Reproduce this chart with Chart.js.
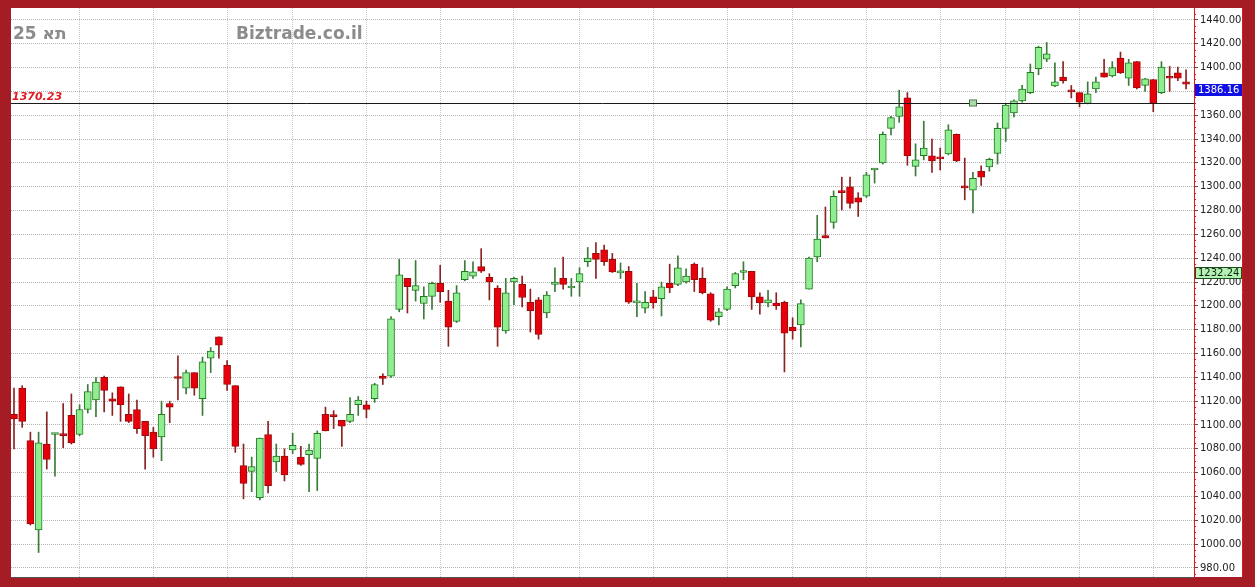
<!DOCTYPE html>
<html>
<head>
<meta charset="utf-8">
<title>TA-25</title>
<script src="https://cdn.jsdelivr.net/npm/chart.js@4.4.1/dist/chart.umd.min.js"></script>
<style>
    html, body { margin: 0; padding: 0; background: #a61c24; }
    canvas { display: block; }
</style>
</head>
<body>
<canvas id="priceChart" width="1255" height="587"></canvas>
<script>
// Daily candles, oldest first
const opens = [
    1109, 1131, 1087, 1012, 1084, 1092, 1092, 1108, 1092, 1113,
    1121, 1140, 1122, 1132, 1109, 1113, 1103, 1094, 1090, 1118,
    1140, 1131, 1144, 1122, 1156, 1174, 1150, 1133, 1066, 1061,
    1039, 1092, 1069, 1074, 1079, 1073, 1075, 1072, 1109, 1108.5,
    1104, 1103, 1117, 1117, 1122, 1141, 1141, 1197, 1223, 1213,
    1202, 1208, 1219, 1204, 1187, 1222, 1225, 1233, 1224, 1215,
    1179, 1220, 1218, 1203, 1205, 1194, 1218, 1223, 1215, 1220,
    1237, 1244, 1247, 1239, 1227.6, 1229, 1202.5, 1198, 1207.5, 1206,
    1219, 1218, 1220, 1235, 1223, 1210, 1191, 1197, 1217, 1228,
    1229, 1207.5, 1202.4, 1202.4, 1203, 1182, 1184, 1214, 1241, 1259,
    1270, 1296, 1300, 1290.6, 1292, 1314, 1320, 1349, 1359, 1374.5,
    1317, 1326, 1326, 1325, 1327.5, 1344, 1300, 1297, 1313, 1316.6,
    1328, 1349, 1362, 1372, 1379, 1399, 1407, 1384.6, 1392, 1381,
    1379, 1370, 1382, 1395.5, 1393, 1408, 1391, 1405, 1385, 1390,
    1379, 1392, 1395.5, 1388
];
const highs = [
    1131, 1133, 1094, 1094, 1111, 1093, 1118, 1126, 1117, 1134,
    1140, 1141, 1127, 1132, 1126, 1121, 1103, 1098, 1120, 1120,
    1158, 1146, 1144, 1157, 1165, 1174, 1154, 1133, 1084, 1073,
    1089, 1103, 1084, 1080, 1093, 1082, 1084, 1095, 1115, 1112,
    1104, 1123, 1124, 1120, 1135, 1143, 1191, 1239, 1223, 1238,
    1216, 1220, 1234, 1213, 1217, 1238, 1237, 1248, 1227, 1217,
    1223, 1224, 1225, 1214, 1207, 1212, 1232, 1241, 1223, 1232,
    1249, 1253, 1251, 1244, 1236, 1233, 1219, 1212, 1213, 1220,
    1235, 1242, 1231, 1236, 1232, 1211, 1198, 1216, 1228, 1237,
    1229, 1211, 1213, 1211, 1204, 1190, 1205, 1241, 1276, 1283,
    1296.5, 1308, 1308, 1295, 1312, 1315, 1346, 1359, 1381, 1379,
    1336, 1355, 1340, 1332.5, 1352, 1344.3, 1324, 1312, 1317.5, 1324,
    1353.5, 1370, 1373, 1385, 1403, 1418, 1421, 1404, 1405, 1385,
    1379, 1388, 1392, 1407, 1405, 1413, 1407, 1405, 1391, 1390,
    1405, 1401, 1400.5, 1398
];
const lows = [
    1080, 1098, 1016, 993, 1063, 1057, 1081, 1084, 1091, 1110,
    1107, 1111, 1108, 1103, 1102, 1093, 1063, 1073, 1070, 1102,
    1121, 1126, 1125, 1108, 1144, 1156, 1129, 1077, 1038, 1044,
    1037, 1043, 1061, 1053, 1076, 1066, 1044, 1045, 1095, 1097,
    1082, 1102, 1108, 1106, 1119, 1134, 1140, 1195, 1194, 1204,
    1189, 1197, 1203, 1166, 1186, 1221, 1223, 1228, 1205, 1166,
    1177, 1201, 1199, 1178, 1172, 1190, 1212, 1214, 1208, 1208,
    1233, 1223, 1234, 1228, 1223, 1202, 1191, 1194, 1198, 1191.5,
    1211, 1217, 1219, 1212, 1210, 1187, 1184, 1196, 1215, 1222,
    1197, 1193, 1199, 1197, 1144.5, 1172, 1165.5, 1214, 1237, 1257,
    1265, 1280.5, 1282, 1275, 1291, 1303, 1319, 1343.5, 1354, 1318,
    1309, 1322.5, 1312, 1314, 1326.7, 1321, 1289, 1278, 1301, 1313,
    1319, 1338, 1358.6, 1371, 1378, 1394, 1405, 1384, 1387, 1374.5,
    1367, 1369.5, 1379, 1392, 1392, 1395, 1385, 1382, 1380, 1363,
    1378, 1380, 1389, 1382
];
const closes = [
    1105, 1103, 1017, 1085, 1071, 1093, 1091, 1085, 1113, 1128,
    1136, 1129, 1120, 1117, 1103, 1097, 1091, 1080, 1109, 1115,
    1139, 1144, 1131, 1153, 1162, 1167, 1134, 1082, 1051, 1065,
    1089, 1049, 1074, 1058, 1083, 1067, 1079, 1093, 1095, 1107,
    1099, 1109, 1121, 1113, 1134, 1139, 1189, 1226, 1216, 1217,
    1208, 1219, 1212, 1182, 1211, 1229, 1228.5, 1229, 1220, 1182,
    1211, 1223, 1207, 1196, 1176, 1209, 1220, 1218, 1215.5, 1227,
    1240, 1239, 1237, 1228.5, 1229.3, 1203, 1203.5, 1203, 1202.4, 1216,
    1215, 1232, 1225, 1222, 1211, 1188, 1195, 1214, 1227, 1228.6,
    1207.5, 1202.4, 1205, 1200, 1177, 1179, 1202, 1240, 1256, 1257,
    1292, 1295, 1286, 1287, 1310, 1315, 1344, 1358, 1367, 1326,
    1322.5, 1332.5, 1321.6, 1323.3, 1347.7, 1321.6, 1299, 1307, 1308, 1323,
    1349, 1368.6, 1372, 1382, 1396, 1417, 1411.5, 1388, 1389, 1379.6,
    1371, 1378, 1388, 1392, 1400, 1395.5, 1404, 1383, 1390.5, 1370,
    1400.5, 1391, 1391, 1386.16
];

// Candles that carry a vertical grid line
const gridDays = [8, 17, 26, 34, 43, 52, 61, 69, 78, 87, 95, 104, 113, 121, 130, 139];

// Price axis labels
const priceTicks = [980, 1000, 1020, 1040, 1060, 1080, 1100, 1120, 1140, 1160, 1180, 1200,
    1220, 1240, 1260, 1280, 1300, 1320, 1340, 1360, 1380, 1400, 1420, 1440];

// Reference line and axis markers
const levelLine = 1370.23;
const levelHandleDay = 117;
const lastPrice = 1386.16;
const otherPrice = 1232.24;

const titleText = 'תא 25';
const siteText = 'Biztrade.co.il';

const days = opens.map((_, i) => i);
const isUp = days.map(i => closes[i] >= opens[i]);

const FRAME_RED = '#a61c24';
const AXIS_RED = '#e2141c';

const framePlugin = {
    id: 'framePlugin',
    beforeDraw(chart) {
        const { ctx, chartArea: a } = chart;
        const yScale = chart.scales.y;
        ctx.save();
        ctx.fillStyle = FRAME_RED;
        ctx.fillRect(0, 0, chart.width, chart.height);
        ctx.fillStyle = '#ffffff';
        ctx.fillRect(a.left, a.top, yScale.right - a.left, a.bottom - a.top);
        ctx.restore();
    },
    beforeDatasetsDraw(chart) {
        const { ctx, chartArea: a } = chart;
        const y = chart.scales.y;
        ctx.save();
        // titles
        ctx.fillStyle = '#8c8c8c';
        ctx.font = 'bold 17px "DejaVu Sans"';
        ctx.textBaseline = 'alphabetic';
        ctx.direction = 'rtl';
        ctx.textAlign = 'left';
        ctx.fillText(titleText, a.left + 2, a.top + 31);
        ctx.direction = 'ltr';
        ctx.fillText(siteText, a.left + 225, a.top + 31);
        // minor ticks on the price axis
        ctx.strokeStyle = AXIS_RED;
        ctx.lineWidth = 1;
        for (let v = 975; v <= 1445; v += 5) {
            if (v % 20 === 0) continue;
            const py = Math.round(y.getPixelForValue(v)) + 0.5;
            ctx.beginPath();
            ctx.moveTo(y.left, py);
            ctx.lineTo(y.left + 2, py);
            ctx.stroke();
        }
        ctx.restore();
    },
    afterDraw(chart) {
        const { ctx, chartArea: a } = chart;
        const x = chart.scales.x;
        const y = chart.scales.y;
        ctx.save();

        // level line
        const ly = Math.round(y.getPixelForValue(levelLine)) + 0.5;
        ctx.strokeStyle = '#1a1a1a';
        ctx.lineWidth = 1;
        ctx.beginPath();
        ctx.moveTo(a.left, ly);
        ctx.lineTo(a.right, ly);
        ctx.stroke();

        ctx.fillStyle = '#e01a24';
        ctx.font = 'italic bold 11px "DejaVu Sans"';
        ctx.textAlign = 'left';
        ctx.textBaseline = 'alphabetic';
        ctx.fillText(levelLine.toFixed(2), a.left + 1, ly - 4);

        // handle on the level line
        const hx = Math.round(x.getPixelForValue(levelHandleDay));
        ctx.fillStyle = '#a9dca9';
        ctx.fillRect(hx - 3, ly - 3, 6, 5);
        ctx.strokeStyle = '#3c6e3c';
        ctx.strokeRect(hx - 3.5, ly - 3.5, 7, 6);

        // right border of the axis panel
        ctx.strokeStyle = AXIS_RED;
        ctx.beginPath();
        ctx.moveTo(y.right - 0.5, a.top);
        ctx.lineTo(y.right - 0.5, a.bottom);
        ctx.stroke();

        // price boxes
        const box = (value, fill, stroke, textColor) => {
            const top = Math.round(y.getPixelForValue(value));
            ctx.fillStyle = fill;
            ctx.fillRect(y.left + 1, top, y.right - y.left - 2, 12);
            if (stroke) {
                ctx.strokeStyle = stroke;
                ctx.strokeRect(y.left + 1.5, top + 0.5, y.right - y.left - 3, 11);
            }
            ctx.fillStyle = textColor;
            ctx.font = '10px "DejaVu Sans"';
            ctx.textAlign = 'left';
            ctx.textBaseline = 'middle';
            ctx.fillText(value.toFixed(2), y.left + 4, top + 6.5);
        };
        box(otherPrice, '#b4f2b4', '#1d4d1d', '#102010');
        box(lastPrice, '#1010e6', null, '#ffffff');

        ctx.restore();
    }
};

const ctx = document.getElementById('priceChart');

new Chart(ctx, {
    type: 'bar',
    data: {
        datasets: [
            {
                label: 'body',
                order: 0,
                grouped: false,
                data: days.map(i => ({ x: i, y: [opens[i], closes[i]] })),
                backgroundColor: days.map(i => isUp[i] ? '#90ee90' : '#e6000c'),
                borderColor: days.map(i => isUp[i] ? '#217a21' : '#9c0a0a'),
                borderWidth: 1,
                borderSkipped: false,
                barThickness: 7,
                minBarLength: 2
            },
            {
                label: 'wick',
                order: 1,
                grouped: false,
                data: days.map(i => ({ x: i, y: [lows[i], highs[i]] })),
                backgroundColor: days.map(i => isUp[i] ? '#3a7a3a' : '#8b2222'),
                borderWidth: 0,
                barThickness: 1
            }
        ]
    },
    options: {
        responsive: false,
        animation: false,
        events: [],
        layout: { padding: { left: 11, top: 8, right: 12, bottom: 10 } },
        plugins: {
            legend: { display: false },
            tooltip: { enabled: false }
        },
        scales: {
            x: {
                type: 'linear',
                offset: false,
                min: -0.366,
                max: 143.97,
                afterBuildTicks: scale => {
                    scale.ticks = gridDays.map(v => ({ value: v }));
                },
                afterFit: scale => { scale.height = 0; },
                ticks: { display: false },
                grid: { offset: false, color: '#c8c8c8', drawTicks: false },
                border: { display: true, color: '#555555', dash: [1, 1] }
            },
            y: {
                position: 'right',
                min: 972.4,
                max: 1450,
                afterBuildTicks: scale => {
                    scale.ticks = priceTicks.map(v => ({ value: v }));
                },
                afterFit: scale => { scale.width = 49; },
                ticks: {
                    padding: 2,
                    color: '#222222',
                    font: { family: 'DejaVu Sans', size: 10 },
                    callback: v => Number(v).toFixed(2)
                },
                grid: {
                    color: '#b4b4b4',
                    tickColor: '#555555',
                    tickLength: 4
                },
                border: { display: true, color: AXIS_RED, dash: [1, 1] }
            }
        }
    },
    plugins: [framePlugin]
});
</script>
</body>
</html>
